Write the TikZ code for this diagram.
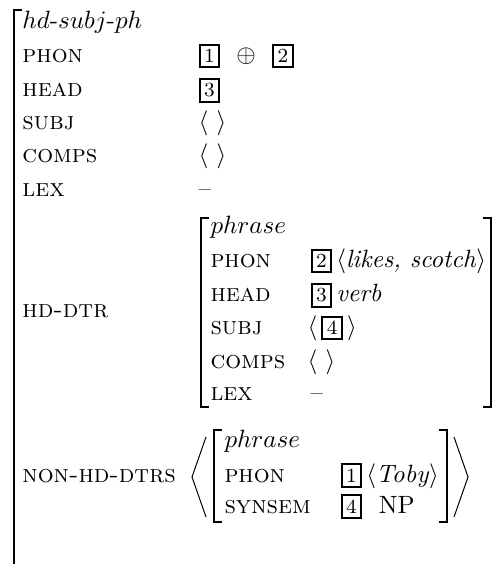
\documentclass[tikz,border=0pt]{standalone}
\usepackage{amsmath}
\usetikzlibrary{positioning}

% boxed structure-sharing tags
\newcommand{\boxtag}[1]{{\setlength{\fboxsep}{1.4pt}\setlength{\fboxrule}{0.8pt}\fbox{\footnotesize #1}}}

\begin{document}
\begin{tikzpicture}[x=0.40pt, y=-0.40pt,
		feat/.style={anchor=base west, inner sep=0pt, font=\scshape},
		val/.style={anchor=base west, inner sep=0pt},
		brk/.style={line width=0.55pt},
		ang/.style={line width=0.4pt}]
	\useasboundingbox (0,0) rectangle (496,564);
	\def\vx{198}  % value column, outer
	\def\ix{210}  % feature column, head daughter
	\def\iv{310}  % value column, head daughter
	
	% Outer structure
	\draw[brk] (22,10) -- (14,10) -- (14,564); % open left bracket
	\node[val] (typ) at (22,29) {$hd$-$subj$-$ph$};
	\node[feat] (phon) at (22,63) {phon};
	\node[feat] (head) at (22,97) {head};
	\node[feat] (subj) at (22,130) {subj};
	\node[feat] (comps) at (22,163) {comps};
	\node[feat] (lex) at (22,197) {lex};
	\node[feat] (hddtr) at (22,318) {hd-dtr};
	\node[feat] (nhd) at (22,482) {non-hd-dtrs};
	
	\node[val] (phonv) at (\vx,63) {\boxtag{1}\hspace{6.5pt}$\oplus$\hspace{6.5pt}\boxtag{2}};
	\node[val] (headv) at (\vx,97) {\boxtag{3}};
	\node[val] (subjv) at (\vx,130) {$\langle\ \rangle$};
	\node[val] (compsv) at (\vx,163) {$\langle\ \rangle$};
	\node[val] (lexv) at (\vx,197) {--};
	
	% Head daughter
	\draw[brk] (209,218) -- (201,218) -- (201,407) -- (209,407);
	\draw[brk] (483,218) -- (491,218) -- (491,407) -- (483,407);
	\node[val] (hdtyp) at (\ix,234) {$phrase$};
	\node[feat] (hdphon) at (\ix,268) {phon};
	\node[feat] (hdhead) at (\ix,302) {head};
	\node[feat] (hdsubj) at (\ix,335) {subj};
	\node[feat] (hdcomps) at (\ix,368) {comps};
	\node[feat] (hdlex) at (\ix,400) {lex};
	
	\node[val] (hdphonv) at (\iv,268) {\boxtag{2}\,$\langle$\textit{likes, scotch}$\rangle$};
	\node[val] (hdheadv) at (\iv,302) {\boxtag{3}\,\textit{verb}};
	\node[val] (hdsubjv) at (\iv-3,335) {$\langle$\,\boxtag{4}\,$\rangle$};
	\node[val] (hdcompsv) at (\iv-3,368) {$\langle\ \rangle$};
	\node[val] (hdlexv) at (\iv,400) {--};
	
	% Non-head daughters list
	\draw[ang] (206,437) -- (192,477) -- (206,517);
	\draw[brk] (222,430) -- (214,430) -- (214,522) -- (222,522);
	\draw[brk] (439,430) -- (447,430) -- (447,522) -- (439,522);
	\draw[ang] (454,437) -- (468,477) -- (454,517);
	\node[val] (ndtyp) at (224,447) {$phrase$};
	\node[feat] (ndphon) at (224,482) {phon};
	\node[feat] (ndss) at (224,513) {synsem};
	\node[val] (ndphonv) at (340,482) {\boxtag{1}\,$\langle$\textit{Toby}$\rangle$};
	\node[val] (ndssv) at (340,513) {\boxtag{4}\ \ NP};
\end{tikzpicture}
\end{document}
